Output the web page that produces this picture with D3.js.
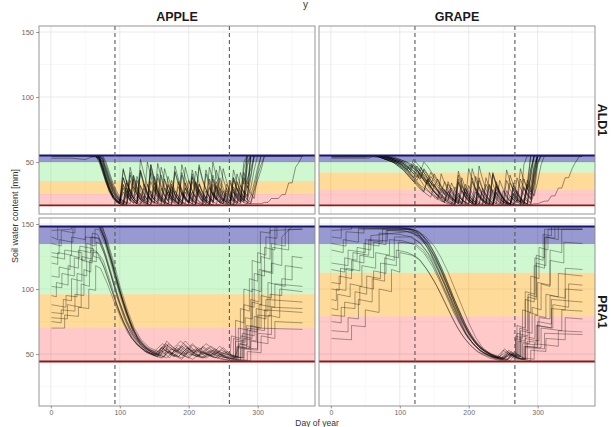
<!DOCTYPE html>
<html><head><meta charset="utf-8">
<script src="https://cdn.jsdelivr.net/npm/d3@7"></script>
<style>
html,body{margin:0;padding:0;background:#fff;}
svg{display:block;font-family:"Liberation Sans",Arial,Helvetica,sans-serif;}
</style>
</head><body>
<svg id="chart" width="611" height="427"></svg>
<script>
// ---------------- DATA ----------------
const crops = ["APPLE", "GRAPE"];
const soils = ["ALD1", "PRA1"];
const xTicks = [0, 100, 200, 300];
const xMinorTicks = [50, 150, 250, 350];
const yTicks = [50, 100, 150];
const yMinorTicks = [25, 75, 125];
const xTitle = "Day of year";
const yTitle = "Soil water content [mm]";

const fieldCapacity = { ALD1: 55, PRA1: 148 };
const wiltingPoint = { ALD1: 16.8, PRA1: 44.3 };
// lower edges of the blue, green and orange bands (red band goes down to wilting point)
const bandLimits = {
  "ALD1 APPLE": [50, 35.5, 25.5],
  "ALD1 GRAPE": [50, 42, 28.5],
  "PRA1 APPLE": [134.5, 96, 70],
  "PRA1 GRAPE": [134.5, 112.5, 79]
};
const phenoStart = { APPLE: 93, GRAPE: 122 };
const phenoEnd = { APPLE: 259, GRAPE: 267 };

// ALD1: soil water sampled on a shared day grid
const ald1Days = [1,30,50,55,60,65,70,75,80,85,90,95,100,105,110,115,120,125,130,135,140,145,150,155,160,165,170,175,180,185,190,195,200,205,210,215,220,225,230,235,240,245,250,255,260,265,270,275,280,285,290,295,300,305,310,315,320,325,330,335,340,345,350,355,360,365];

const ald1AppleRuns = [
 [55,55,55,55,55,55, 53,46,38,31,25,21,19, 18,36,28,22,19,44,34,26,21,19, 18,30,24,20,18,47,37,29,23,20, 18,17,33,26,21,19,40,31,24,20, 18,17,38,29,23,50,55,55,55,55, 55,55,55,55,55,55,55,55,55,55,55,55,55],
 [55,55,55,55,55,55, 55,54,48,40,32,26,22, 20,19,18,31,25,21,19,18,42,33, 26,21,19,18,17,28,23,20,18,17, 17,35,28,23,20,18,17,17,30,25, 21,19,18,17,17,17,18,18,18,18, 18,19,19,22,22,22,25,25,34,34,46,50,55],
 [55,55,55,55,54,55, 50,42,34,27,22,19,18, 45,35,27,22,19,18,33,26,21,19, 49,38,29,23,20,18,17,26,22,19, 44,34,27,22,19,18,17,31,25,21, 19,36,28,23,20,42,33,55,55,55, 55,55,55,55,55,55,55,55,55,55,55,55,55],
 [55,55,55,55,55,55, 54,48,39,30,24,20,18, 17,25,21,39,30,24,20,18,17,29, 24,20,45,35,27,22,19,18,34,27, 22,19,18,17,41,32,25,21,19,18, 28,23,20,35,28,23,55,55,55,55, 55,55,55,55,55,55,55,55,55,55,55,55,55],
 [55,55,55,55,55,54, 52,44,36,29,24,20,19, 18,17,40,31,25,21,19,50,39,30, 24,20,18,17,31,25,21,19,18,36, 28,23,20,18,17,17,27,22,19,45, 35,27,22,19,18,24,21,19,30,42, 55,55,55,55,55,55,55,55,55,55,55,55,55],
 [55,55,55,55,55,55, 55,51,43,35,28,23,20, 38,29,23,20,18,17,24,21,48,37, 28,23,20,18,33,26,21,19,17,17, 39,30,24,20,18,17,26,22,19,18, 17,21,44,34,27,22,19,55,55,55, 55,55,55,55,55,55,55,55,55,55,55,55,55],
 [55,55,55,55,55,55, 53,45,36,28,23,20,18, 17,30,24,20,18,42,32,25,21,19, 18,17,37,29,23,20,18,17,46,36, 28,22,19,18,17,17,33,26,21,19, 18,17,27,22,19,38,30,40,55,55, 55,55,55,55,55,55,55,55,55,55,55,55,55],
 [55,55,55,55,55,55, 54,47,38,30,24,21,19, 33,26,21,19,18,52,41,32,25,21, 19,18,17,28,23,20,18,42,33,26, 21,19,18,17,24,21,19,35,28,22, 19,18,17,30,25,21,47,55,55,55, 55,55,55,55,55,55,55,55,55,55,55,55,55],
 [53,53,52,53,54,54, 52,46,37,29,23,20,18, 17,17,36,28,22,19,18,17,25,21, 19,40,31,25,21,19,18,17,30,24, 20,18,48,37,29,23,20,18,17,22, 20,18,38,30,24,20,32,26,22,40, 48,55,55,55,55,55,55,55,55,55,55,55,55],
 [55,55,55,55,55,55, 55,52,45,37,30,24,21, 19,18,46,35,27,22,19,18,17,34, 27,22,19,18,17,43,34,27,22,19, 18,17,29,24,20,18,50,39,30,24, 20,18,17,26,22,19,18,24,34,46, 55,55,55,55,55,55,55,55,55,55,55,55,55],
 [55,55,55,55,55,55, 54,49,41,33,27,22,20, 30,24,20,37,29,23,20,33,26,21, 41,32,25,21,36,28,23,20,30,24, 20,43,34,27,22,31,25,21,38,30, 24,20,29,24,20,45,55,55,55,55, 55,55,55,55,55,55,55,55,55,55,55,55,55],
 [55,55,55,55,55,55, 55,53,46,38,31,25,21, 19,34,27,22,39,31,25,21,28,23, 20,46,36,28,23,20,31,25,21,18, 35,28,23,19,44,34,27,22,19,28, 23,20,36,29,23,20,50,55,55,55, 55,55,55,55,55,55,55,55,55,55,55,55,55],
 [55,55,55,55,55,55, 52,43,35,28,23,20,18, 27,22,42,33,26,21,30,24,20,18, 38,30,24,20,29,24,20,48,38,30, 24,20,33,27,22,19,37,29,23,20, 26,22,19,41,32,26,21,30,44,55, 55,55,55,55,55,55,55,55,55,55,55,55,55],
 [55,55,55,55,55,55, 54,50,42,34,27,23,20, 18,28,23,40,31,25,21,18,35,28, 22,19,30,25,21,42,33,26,21,19, 27,23,46,36,29,23,20,32,26,21, 19,34,27,22,19,28,24,55,55,55, 55,55,55,55,55,55,55,55,55,55,55,55,55],
 [55,55,55,55,55,55, 55,52,44,36,29,24,21, 44,34,27,22,19,32,26,21,18,39, 31,25,21,27,22,19,35,28,23,19, 41,32,26,21,18,30,25,21,47,37, 29,23,20,18,32,27,23,38,55,55, 55,55,55,55,55,55,55,55,55,55,55,55,55],
 [55,55,55,55,55,55, 53,47,39,31,25,21,19, 32,26,21,18,36,28,23,19,48,37, 29,23,20,33,26,21,18,27,22,19, 38,30,24,20,28,23,19,44,34,27, 22,19,31,25,21,19,37,45,55,55, 55,55,55,55,55,55,55,55,55,55,55,55,55],
 [55,55,55,55,55,55, 55,55,50,42,34,28,23, 20,18,29,24,20,43,33,26,21,31, 25,21,18,39,31,25,21,18,27,22, 19,34,27,22,19,46,36,28,23,20, 30,25,21,18,24,21,19,18,28,36, 44,55,55,55,55,55,55,55,55,55,55,55,55],
 [55,55,55,55,55,55, 53,44,35,28,23,20,18, 38,30,24,20,18,26,22,19,45,35, 27,22,19,32,26,21,18,40,31,25, 21,18,29,24,20,37,29,23,20,18, 33,27,22,19,42,33,55,55,55,55, 55,55,55,55,55,55,55,55,55,55,55,55,55]
];

const ald1GrapeRuns = [
 [55,55,55,55,55,55, 55,54,54,53,53,52,51, 50,48,46,43,40,37,45,41,36,32, 28,25,23,21,34,28,24,21,19,18, 38,30,25,21,19,18,29,24,21,19, 44,35,28,23,20,18,30,45,55,55, 55,55,55,55,55,55,55,55,55,55,55,55,55],
 [53,53,53,53,54,54, 54,53,52,52,51,50,49, 47,45,42,48,44,40,36,32,28,25, 22,20,19,35,28,23,20,18,17,32, 26,22,19,18,17,42,33,26,22,19, 18,17,25,21,19,18,36,29,24,35, 48,55,55,55,55,55,55,55,55,55,55,55,55],
 [55,55,55,55,55,55, 55,55,54,54,53,53,52, 51,50,48,46,44,41,38,35,42,37, 33,29,26,23,21,19,40,32,26,22, 19,18,17,30,25,21,19,18,36,29, 24,20,18,17,17,48,55,55,55,55, 55,55,55,55,55,55,55,55,55,55,55,55,55],
 [55,55,55,55,55,55, 55,55,55,54,54,53,52, 51,50,49,47,45,43,50,47,43,39, 35,31,28,25,23,21,19,18,27,23, 20,18,17,17,33,27,22,19,18,17, 17,24,21,19,18,17,17,17,18,18, 19,20,20,24,24,30,30,38,38,45,50,54,55],
 [55,55,55,55,55,54, 54,53,52,51,50,48,46, 44,41,38,35,32,29,27,37,31,27, 24,21,19,18,17,31,25,21,19,18, 45,36,29,24,20,18,17,26,22,19, 18,17,34,27,22,19,18,40,55,55, 55,55,55,55,55,55,55,55,55,55,55,55,55],
 [55,55,55,55,55,55, 54,54,53,53,52,51,50, 49,47,45,52,49,46,42,38,34,31, 28,25,22,20,19,18,24,21,19,45, 36,29,24,20,18,17,17,31,25,21, 19,18,17,28,23,20,33,27,46,55, 55,55,55,55,55,55,55,55,55,55,55,55,55],
 [55,55,55,55,55,55, 55,54,53,52,51,49,47, 45,42,39,36,33,30,27,25,23,33, 28,24,21,19,18,17,37,29,24,20, 18,17,24,21,19,18,40,32,26,22, 19,18,17,21,19,30,25,22,44,55, 55,55,55,55,55,55,55,55,55,55,55,55,55],
 [55,55,55,55,55,55, 55,55,54,53,52,51,50, 48,46,44,41,38,46,42,38,34,30, 27,24,22,20,30,25,22,19,18,17, 17,27,23,20,18,17,17,35,28,23, 20,18,17,38,30,25,21,19,26,48, 55,55,55,55,55,55,55,55,55,55,55,55,55],
 [54,54,54,55,55,55, 54,53,52,51,50,49,48, 46,44,41,38,35,32,30,28,26,24, 22,41,34,28,23,20,18,17,29,24, 21,19,18,17,38,30,24,21,19,18, 17,17,32,26,22,19,18,17,40,55, 55,55,55,55,55,55,55,55,55,55,55,55,55],
 [55,55,55,55,55,55, 55,54,54,53,52,51,49, 47,44,41,38,44,40,36,33,30,27, 25,23,21,19,18,17,34,27,23,20, 18,17,47,37,29,24,20,18,17,28, 23,20,18,17,17,22,20,18,32,50, 55,55,55,55,55,55,55,55,55,55,55,55,55],
 [55,55,55,55,55,55, 54,54,53,52,51,50,48, 46,44,48,45,42,39,36,33,39,35, 31,28,25,33,28,24,21,19,30,25, 21,19,36,29,24,20,18,31,26,22, 19,40,32,26,22,19,34,55,55,55, 55,55,55,55,55,55,55,55,55,55,55,55,55],
 [55,55,55,55,55,55, 55,54,54,53,52,51,50, 49,47,45,43,41,38,44,40,36,32, 29,26,35,30,26,22,20,18,33,27, 23,20,18,28,23,20,42,33,27,22, 19,18,30,25,21,19,18,44,55,55, 55,55,55,55,55,55,55,55,55,55,55,55,55],
 [55,55,55,55,55,55, 55,55,54,53,52,50,49, 47,45,42,39,36,42,38,34,30,27, 24,22,29,25,22,20,18,38,30,25, 21,19,26,22,19,33,27,23,20,18, 36,29,24,20,18,17,29,38,55,55, 55,55,55,55,55,55,55,55,55,55,55,55,55],
 [54,54,54,54,55,55, 55,54,53,52,51,50,49, 48,46,44,49,46,43,40,37,34,31, 37,32,28,25,22,20,18,28,24,21, 19,39,31,25,21,19,17,33,27,22, 19,18,26,22,19,37,30,25,42,55, 55,55,55,55,55,55,55,55,55,55,55,55,55],
 [55,55,55,55,55,55, 54,53,52,51,50,49,47, 45,43,40,37,34,31,28,36,31,27, 24,21,19,27,23,20,43,34,27,22, 19,17,31,25,21,19,17,27,23,20, 18,34,28,23,20,18,17,32,48,55, 55,55,55,55,55,55,55,55,55,55,55,55,55],
 [55,55,55,55,55,55, 55,55,54,54,53,52,51, 49,47,44,41,47,43,39,35,31,28, 25,22,20,28,24,21,19,32,26,22, 19,17,38,30,25,21,18,29,24,20, 18,17,23,20,45,36,29,55,55,55, 55,55,55,55,55,55,55,55,55,55,55,55,55],
 [55,55,55,55,55,55, 54,53,52,51,50,48,46, 44,41,38,35,40,36,32,29,26,23, 21,30,25,22,19,18,35,28,23,20, 18,30,25,21,19,17,41,33,26,22, 19,17,26,22,19,31,26,22,38,50, 55,55,55,55,55,55,55,55,55,55,55,55,55],
 [55,55,55,55,55,55, 55,55,55,54,53,52,51, 50,49,47,45,43,40,37,34,31,41, 36,31,27,24,21,19,26,22,19,17, 35,28,23,20,18,32,26,22,19,17, 28,24,21,19,37,30,25,21,33,55, 55,55,55,55,55,55,55,55,55,55,55,55,55]
];

// PRA1: runs as [day, value, day, value, ...]
const pra1AppleRuns = [
 [1,148, 72,148, 80,136, 90,118, 100,98, 110,80, 120,66, 130,57, 145,50, 155,48, 160,55, 175,50, 185,57, 200,50, 215,48, 220,56, 240,49, 255,47, 265,46, 275,58, 290,55, 290,72, 305,70, 305,95, 320,93, 320,120, 335,118, 335,140, 350,148, 365,148],
 [1,120, 10,119, 10,128, 30,126, 30,140, 50,138, 50,148, 70,148, 78,138, 88,121, 98,102, 108,85, 118,70, 128,60, 140,53, 150,50, 165,48, 170,58, 185,52, 195,49, 205,57, 220,51, 235,48, 250,55, 262,49, 280,47, 280,62, 298,60, 298,85, 315,83, 315,105, 340,102, 340,118, 365,116],
 [1,82, 18,81, 18,92, 30,91, 30,108, 45,106, 45,125, 60,123, 60,143, 68,142, 76,132, 86,113, 96,94, 106,78, 116,66, 126,58, 138,52, 150,49, 160,53, 172,47, 182,55, 195,50, 210,54, 225,48, 240,52, 258,47, 272,46, 272,58, 285,57, 285,70, 310,68, 310,84, 365,82],
 [1,70, 20,70, 20,80, 40,79, 40,86, 55,85, 55,100, 65,99, 65,118, 72,116, 82,104, 92,90, 102,77, 112,66, 125,57, 140,51, 155,49, 165,56, 178,50, 190,47, 200,54, 215,49, 230,52, 245,47, 260,45, 275,45, 275,55, 300,54, 300,70, 365,69],
 [1,135, 15,133, 15,145, 35,143, 35,148, 75,148, 85,130, 95,110, 105,91, 115,75, 125,63, 135,56, 148,51, 160,50, 168,60, 180,54, 192,50, 205,58, 218,52, 232,49, 245,56, 258,50, 265,48, 265,62, 280,60, 280,88, 295,86, 295,112, 310,110, 310,132, 325,130, 325,148, 365,148],
 [1,95, 8,94, 8,105, 25,103, 25,118, 40,116, 40,130, 58,128, 58,140, 70,139, 80,126, 90,108, 100,90, 110,75, 120,64, 132,56, 145,52, 158,49, 170,52, 180,48, 195,56, 205,51, 220,47, 235,53, 250,49, 262,48, 270,47, 270,55, 288,54, 288,68, 300,67, 300,80, 318,79, 318,96, 335,95, 335,108, 350,107, 350,125, 365,124],
 [1,110, 12,109, 12,117, 28,115, 28,126, 42,124, 42,133, 62,131, 62,125, 70,124, 78,116, 88,100, 98,84, 108,72, 118,62, 130,55, 142,51, 155,48, 168,54, 178,49, 190,46, 200,52, 212,48, 228,55, 242,50, 255,48, 268,47, 268,60, 282,59, 282,78, 292,77, 292,100, 305,98, 305,125, 318,123, 318,145, 365,146],
 [1,88, 22,86, 22,95, 38,94, 38,112, 52,110, 52,135, 64,133, 64,146, 70,146, 79,134, 89,116, 99,97, 109,81, 119,68, 129,59, 141,53, 152,50, 162,47, 175,54, 188,50, 200,47, 212,53, 225,50, 238,47, 252,52, 265,48, 278,47, 278,66, 295,64, 295,79, 312,77, 312,92, 365,90],
 [1,125, 20,123, 20,130, 45,128, 45,122, 60,120, 60,128, 68,128, 76,122, 86,106, 96,88, 106,74, 116,63, 126,57, 138,52, 150,50, 162,55, 172,50, 185,48, 198,55, 210,50, 222,47, 238,54, 250,48, 262,46, 285,45, 285,52, 305,51, 305,64, 325,62, 325,75, 365,74],
 [1,145, 30,146, 30,148, 73,148, 82,134, 92,115, 102,96, 112,80, 122,67, 132,59, 145,53, 158,51, 168,57, 182,52, 195,60, 208,53, 220,50, 232,56, 248,51, 260,49, 262,64, 275,62, 275,85, 288,83, 288,108, 300,106, 300,128, 312,126, 312,140, 328,139, 328,148, 365,148],
 [1,75, 15,74, 15,84, 35,83, 35,96, 48,95, 48,115, 58,113, 58,130, 66,129, 74,121, 84,106, 94,90, 104,76, 114,66, 124,58, 136,52, 148,49, 160,47, 172,52, 185,48, 198,55, 210,50, 225,47, 240,51, 255,47, 268,46, 290,45, 290,60, 315,58, 315,80, 332,78, 332,100, 365,98],
 [1,140, 10,138, 10,148, 70,148, 77,140, 87,122, 97,102, 107,86, 117,72, 127,62, 138,55, 150,52, 162,58, 175,53, 188,60, 200,55, 212,51, 225,58, 238,53, 252,50, 265,49, 272,48, 272,70, 290,68, 290,92, 302,90, 302,115, 320,113, 320,135, 340,133, 340,148, 365,148],
 [1,128, 12,127, 12,138, 32,136, 32,148, 71,148, 79,137, 89,119, 99,100, 109,83, 119,69, 129,60, 141,54, 153,51, 163,56, 176,50, 188,54, 200,48, 214,55, 228,50, 242,47, 256,52, 266,48, 276,47, 276,64, 292,62, 292,90, 306,88, 306,114, 322,112, 322,132, 345,130, 345,146, 365,146],
 [1,102, 16,101, 16,112, 34,110, 34,124, 50,122, 50,140, 69,139, 77,128, 87,111, 97,93, 107,78, 117,66, 128,58, 140,52, 152,49, 165,53, 178,48, 190,56, 204,50, 218,47, 232,53, 246,48, 260,47, 270,46, 270,56, 284,55, 284,72, 302,70, 302,88, 325,86, 325,104, 365,102],
 [1,148, 74,148, 81,139, 91,121, 101,101, 111,84, 121,70, 131,61, 143,55, 156,52, 166,58, 180,52, 194,57, 206,51, 220,55, 234,49, 248,53, 262,48, 268,48, 268,76, 280,74, 280,100, 292,98, 292,122, 304,120, 304,144, 318,143, 318,148, 365,148],
 [1,78, 24,77, 24,88, 44,86, 44,104, 56,102, 56,122, 66,121, 66,136, 71,135, 79,125, 89,108, 99,91, 109,77, 119,66, 130,58, 142,53, 155,50, 168,47, 180,53, 192,49, 206,46, 220,52, 234,48, 248,46, 264,45, 280,45, 280,54, 300,53, 300,66, 320,65, 320,86, 365,85]
];

const pra1GrapeRuns = [
 [1,148, 60,148, 100,147, 125,145, 138,140, 150,133, 160,124, 170,113, 180,100, 190,87, 200,74, 210,63, 220,55, 232,50, 245,48, 252,54, 262,49, 272,47, 272,60, 288,58, 288,82, 300,80, 300,105, 318,103, 318,130, 335,128, 335,146, 365,146],
 [1,100, 12,99, 12,110, 30,108, 30,122, 48,120, 48,135, 70,133, 70,143, 100,142, 118,140, 132,134, 145,125, 155,115, 165,103, 175,90, 185,78, 195,67, 205,59, 215,53, 228,49, 240,47, 250,53, 262,48, 270,46, 278,46, 278,58, 300,57, 300,75, 320,73, 320,92, 365,90],
 [1,68, 25,67, 25,78, 40,77, 40,92, 60,90, 60,108, 78,106, 78,124, 92,122, 92,140, 115,140, 128,136, 140,128, 150,118, 160,106, 170,94, 180,82, 190,71, 200,62, 212,55, 225,50, 238,47, 250,46, 258,52, 268,47, 282,46, 282,55, 310,54, 310,66, 365,65],
 [1,130, 18,128, 18,138, 40,136, 40,146, 110,146, 125,143, 138,136, 148,127, 158,116, 168,104, 178,91, 188,79, 198,68, 208,60, 218,54, 230,50, 242,47, 255,52, 268,47, 268,62, 282,60, 282,92, 295,90, 295,118, 310,116, 310,140, 325,139, 325,148, 365,148],
 [1,85, 10,84, 10,96, 28,94, 28,104, 45,102, 45,118, 65,116, 65,128, 85,126, 85,138, 105,137, 122,134, 136,127, 148,117, 158,106, 168,94, 178,82, 188,72, 198,63, 210,56, 222,51, 235,48, 248,46, 262,50, 270,47, 285,46, 285,60, 298,59, 298,72, 320,70, 320,85, 340,84, 340,100, 365,99],
 [1,115, 20,113, 20,124, 38,122, 38,132, 58,130, 58,141, 110,144, 128,141, 142,133, 152,124, 162,112, 172,99, 182,86, 192,74, 202,64, 212,57, 224,52, 236,48, 248,47, 258,53, 268,49, 275,48, 275,68, 292,66, 292,86, 305,84, 305,104, 318,102, 318,122, 338,120, 338,136, 365,135],
 [1,75, 15,74, 15,86, 35,85, 35,98, 52,96, 52,110, 72,108, 72,120, 95,118, 95,130, 112,128, 126,124, 138,116, 150,106, 160,96, 170,85, 180,74, 190,65, 200,58, 212,52, 225,49, 240,46, 255,45, 262,50, 275,46, 290,45, 290,53, 312,52, 312,62, 340,61, 340,78, 365,77],
 [1,145, 30,146, 30,148, 90,148, 118,146, 132,142, 144,134, 154,124, 164,112, 174,99, 184,86, 194,74, 204,64, 214,57, 226,52, 238,49, 250,47, 262,51, 270,48, 270,72, 282,70, 282,98, 296,96, 296,124, 308,122, 308,142, 320,141, 320,148, 365,148],
 [1,92, 8,91, 8,100, 22,99, 22,116, 42,114, 42,126, 62,124, 62,136, 80,134, 80,145, 105,145, 120,143, 135,136, 146,126, 156,114, 166,102, 176,89, 186,77, 196,66, 206,58, 218,52, 230,49, 244,47, 256,46, 266,52, 276,48, 276,64, 296,62, 296,80, 312,78, 312,96, 330,94, 330,112, 365,110],
 [1,120, 25,118, 25,130, 50,128, 50,138, 75,136, 75,146, 115,146, 130,140, 140,132, 150,122, 160,110, 170,98, 180,86, 190,75, 200,66, 210,58, 222,52, 234,48, 246,46, 258,50, 270,47, 280,46, 280,56, 300,55, 300,72, 322,70, 322,88, 345,86, 345,104, 365,103],
 [1,62, 30,61, 30,72, 50,71, 50,84, 70,82, 70,100, 88,98, 88,115, 100,113, 100,128, 118,126, 130,122, 142,113, 154,102, 164,91, 174,80, 184,70, 194,62, 206,55, 218,50, 230,47, 245,45, 258,46, 266,51, 280,47, 295,46, 295,58, 330,56, 330,68, 365,67],
 [1,140, 15,139, 15,147, 120,146, 134,140, 146,131, 156,120, 166,108, 176,95, 186,83, 196,71, 206,62, 216,55, 228,51, 240,48, 252,47, 262,52, 268,49, 268,64, 278,62, 278,84, 290,82, 290,110, 302,108, 302,132, 315,130, 315,146, 365,146],
 [1,135, 22,133, 22,144, 48,143, 48,148, 112,147, 126,143, 140,134, 150,125, 160,114, 170,101, 180,88, 190,76, 200,66, 210,59, 222,53, 234,49, 246,47, 258,51, 270,48, 270,66, 286,64, 286,94, 298,92, 298,120, 312,118, 312,140, 330,138, 330,148, 365,148],
 [1,105, 14,104, 14,116, 32,114, 32,128, 55,126, 55,138, 82,137, 82,145, 116,144, 130,139, 142,131, 152,121, 162,109, 172,96, 182,83, 192,72, 202,63, 214,56, 226,51, 238,48, 250,46, 262,50, 272,47, 282,46, 282,62, 302,60, 302,78, 318,77, 318,95, 340,93, 340,116, 365,115],
 [1,80, 20,79, 20,90, 42,88, 42,102, 62,100, 62,114, 80,112, 80,126, 98,124, 98,136, 122,135, 134,130, 146,121, 156,110, 166,98, 176,86, 186,75, 196,65, 208,57, 220,51, 232,48, 246,46, 260,45, 268,50, 282,46, 282,56, 305,55, 305,70, 335,68, 335,84, 365,83],
 [1,148, 40,148, 40,147, 116,146, 128,144, 140,137, 150,128, 160,117, 170,104, 180,91, 190,79, 200,68, 210,60, 220,54, 232,50, 244,47, 256,46, 266,50, 274,47, 274,70, 286,68, 286,96, 298,94, 298,126, 310,124, 310,146, 365,146]
];

// ---------------- DRAWING ----------------
function gridRuns(days, runs) {
  return runs.map(r => r.map((v, i) => [days[i], v]).filter(p => p[0] !== undefined));
}
function pairRuns(runs) {
  return runs.map(r => { const out = []; for (let i = 0; i + 1 < r.length; i += 2) out.push([r[i], r[i + 1]]); return out; });
}
const runsByPanel = {
  "ALD1 APPLE": gridRuns(ald1Days, ald1AppleRuns),
  "ALD1 GRAPE": gridRuns(ald1Days, ald1GrapeRuns),
  "PRA1 APPLE": pairRuns(pra1AppleRuns),
  "PRA1 GRAPE": pairRuns(pra1GrapeRuns)
};

const panelLeft = [39, 319];
const panelTop = [26, 218];
const pw = 276, ph = 188;
const svg = d3.select("#chart");

const x = d3.scaleLinear().domain([-17.2, 383.2]).range([0, pw]);
const y = d3.scaleLinear().domain([10.1, 154.6]).range([ph, 0]);
const line = d3.line().x(d => x(d[0])).y(d => y(d[1]));

const bandColors = ["rgba(0,0,139,0.40)", "rgba(144,238,144,0.42)", "rgba(255,165,0,0.40)", "rgba(255,0,0,0.21)"];

svg.append("defs").append("clipPath").attr("id", "pclip")
  .append("rect").attr("width", pw).attr("height", ph);

soils.forEach((soil, ri) => {
  crops.forEach((crop, ci) => {
    const key = soil + " " + crop;
    const g = svg.append("g").attr("transform", `translate(${panelLeft[ci]},${panelTop[ri]})`);
    const inner = g.append("g").attr("clip-path", "url(#pclip)");

    // grid
    inner.selectAll(".gxm").data(xMinorTicks).join("line")
      .attr("x1", d => x(d)).attr("x2", d => x(d)).attr("y1", 0).attr("y2", ph)
      .attr("stroke", "#f3f3f3").attr("stroke-width", 0.6);
    inner.selectAll(".gym").data(yMinorTicks).join("line")
      .attr("y1", d => y(d)).attr("y2", d => y(d)).attr("x1", 0).attr("x2", pw)
      .attr("stroke", "#f3f3f3").attr("stroke-width", 0.6);
    inner.selectAll(".gx").data(xTicks).join("line")
      .attr("x1", d => x(d)).attr("x2", d => x(d)).attr("y1", 0).attr("y2", ph)
      .attr("stroke", "#e5e5e5").attr("stroke-width", 0.8);
    inner.selectAll(".gy").data(yTicks).join("line")
      .attr("y1", d => y(d)).attr("y2", d => y(d)).attr("x1", 0).attr("x2", pw)
      .attr("stroke", "#e5e5e5").attr("stroke-width", 0.8);

    // bands
    const lim = bandLimits[key];
    const edges = [fieldCapacity[soil], lim[0], lim[1], lim[2], wiltingPoint[soil]];
    for (let b = 0; b < 4; b++) {
      inner.append("rect").attr("x", 0).attr("width", pw)
        .attr("y", y(edges[b])).attr("height", y(edges[b + 1]) - y(edges[b]))
        .attr("fill", bandColors[b]);
    }

    // trajectories
    const isAld = soil === "ALD1";
    inner.selectAll(".run").data(runsByPanel[key]).join("path")
      .attr("d", line).attr("fill", "none")
      .attr("stroke", "#000").attr("stroke-opacity", isAld ? 0.5 : 0.45)
      .attr("stroke-width", isAld ? 0.8 : 0.75).attr("stroke-linejoin", "round");

    // field capacity / wilting point lines
    inner.append("line").attr("x1", 0).attr("x2", pw)
      .attr("y1", y(fieldCapacity[soil])).attr("y2", y(fieldCapacity[soil]))
      .attr("stroke", "#16166e").attr("stroke-width", 2);
    inner.append("line").attr("x1", 0).attr("x2", pw)
      .attr("y1", y(wiltingPoint[soil])).attr("y2", y(wiltingPoint[soil]))
      .attr("stroke", "#8b1a1a").attr("stroke-width", 1.8);

    // phenology dashed lines
    [phenoStart[crop], phenoEnd[crop]].forEach(d => {
      inner.append("line").attr("x1", x(d)).attr("x2", x(d)).attr("y1", 0).attr("y2", ph)
        .attr("stroke", "#5a5a5a").attr("stroke-width", 1.1).attr("stroke-dasharray", "4,3");
    });

    // border
    g.append("rect").attr("width", pw).attr("height", ph)
      .attr("fill", "none").attr("stroke", "#8a8a8a").attr("stroke-width", 0.9);

    // y axis (left column)
    if (ci === 0) {
      const ya = d3.axisLeft(y).tickValues(yTicks).tickSize(3).tickPadding(2);
      const ag = g.append("g").call(ya);
      ag.select(".domain").remove();
      ag.selectAll("line").attr("stroke", "#555").attr("stroke-width", 0.6);
      ag.selectAll("text").attr("font-size", 7.5).attr("fill", "#6a6a6a")
        .attr("font-family", "'Liberation Sans',Arial,sans-serif");
    }
    // x axis (bottom row)
    if (ri === 1) {
      const xa = d3.axisBottom(x).tickValues(xTicks).tickSize(2.5).tickPadding(1.5);
      const ag = g.append("g").attr("transform", `translate(0,${ph})`).call(xa);
      ag.select(".domain").remove();
      ag.selectAll("line").attr("stroke", "#555").attr("stroke-width", 0.6);
      ag.selectAll("text").attr("font-size", 7).attr("fill", "#6a6a6a")
        .attr("font-family", "'Liberation Sans',Arial,sans-serif");
    }
  });
});

// strip labels
crops.forEach((crop, ci) => {
  svg.append("text").attr("x", panelLeft[ci] + pw / 2).attr("y", 21)
    .attr("text-anchor", "middle").attr("font-size", 12.5).attr("font-weight", "bold")
    .attr("fill", "#1a1a1a").text(crop);
});
soils.forEach((soil, ri) => {
  svg.append("text")
    .attr("transform", `translate(602,${panelTop[ri] + ph / 2}) rotate(90)`)
    .attr("text-anchor", "middle").attr("dominant-baseline", "central")
    .attr("font-size", 12.5).attr("font-weight", "bold").attr("fill", "#1a1a1a").text(soil);
});

// axis titles
svg.append("text").attr("transform", "translate(18,216) rotate(-90)")
  .attr("text-anchor", "middle").attr("font-size", 9).attr("fill", "#333").text(yTitle);
svg.append("text").attr("x", 317).attr("y", 425.5)
  .attr("text-anchor", "middle").attr("font-size", 8.5).attr("fill", "#333").text(xTitle);
// remnant of the caption above the chart
svg.append("text").attr("x", 303).attr("y", 8)
  .attr("font-size", 10).attr("fill", "#333").text("y");
</script>
</body></html>
